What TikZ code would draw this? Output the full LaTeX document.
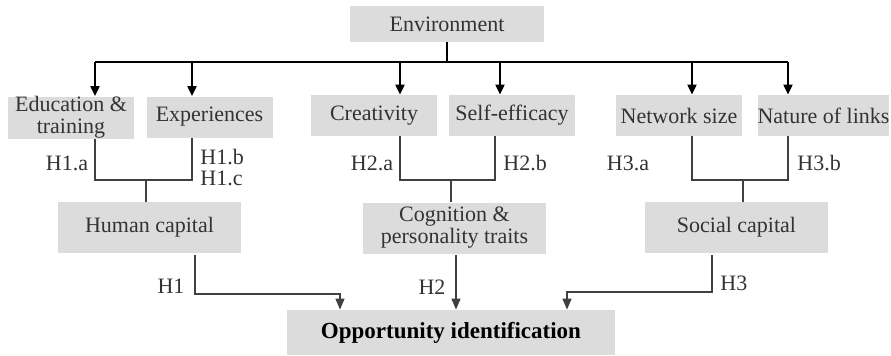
\documentclass[tikz,border=0pt]{standalone}
\usepackage{fontspec}
\setmainfont{Liberation Serif}
\usetikzlibrary{arrows.meta}
\definecolor{boxgray}{HTML}{DCDCDC}
\definecolor{linegray}{HTML}{404040}
\definecolor{textgray}{HTML}{333333}

\begin{document}
\begin{tikzpicture}[
	x=0.5pt, y=-0.5pt,
	block/.style={rectangle, fill=boxgray, inner sep=0pt, align=center, text=textgray, font=\fontsize{11}{11}\selectfont},
	small/.style={block, minimum width=63pt, minimum height=20.5pt},
	wide/.style={block, minimum width=91.5pt, minimum height=25.5pt},
	hyp/.style={text=textgray, inner sep=0pt, font=\fontsize{11}{11}\selectfont},
	toparrow/.style={-{Triangle[length=5pt, width=4.5pt]}, line width=1pt, black},
	link/.style={line width=0.7pt, linegray},
	linkarrow/.style={link, -{Triangle[length=5.5pt, width=4.5pt]}}
]
	\useasboundingbox (0,0) rectangle (891,355);

	% Environment layer
	\node[block, minimum width=97pt, minimum height=18pt] (env) at (447,24) {Environment};

	% Antecedents
	\node[small] (edu) at (71,117.5) {Education \&\\training};
	\node[small] (exp) at (209.5,117) {Experiences};
	\node[small] (cre) at (374,115.5) {Creativity};
	\node[small] (self) at (512,115.5) {Self-efficacy};
	\node[small] (net) at (679,115.5) {Network size};
	\node[small] (nat) at (823.5,115.5) {Nature of links};

	% Capitals
	\node[wide] (hum) at (149.5,227.5) {Human capital};
	\node[wide] (cog) at (454.5,228) {Cognition \&\\personality traits};
	\node[wide] (soc) at (736.5,227.5) {Social capital};

	% Outcome
	\node[block, minimum width=164pt, minimum height=22.5pt, text=black, font=\fontsize{11.5}{12}\selectfont\bfseries] (opp) at (451,332.5) {Opportunity identification};

	% Arrows from environment
	\coordinate (busL) at (95,62);
	\coordinate (busR) at (788,62);
	\draw[line width=1pt] (env.south) -- (env.south |- busL);
	\draw[line width=1pt] (busL) -- (busR);
	\foreach \n/\x in {edu/95, exp/192, cre/400, self/500, net/692, nat/788}
		\draw[toparrow] (\x,62) -- (\x,0 |- \n.north);

	% Brackets
	\draw[link] (95,0 |- edu.south) -- (95,180) -- (192,180) -- (192,0 |- exp.south);
	\draw[link] (146,180) -- (146,0 |- hum.north);
	\draw[link] (400,0 |- cre.south) -- (400,180) -- (495,180) -- (495,0 |- self.south);
	\draw[link] (451,180) -- (451,0 |- cog.north);
	\draw[link] (692,0 |- net.south) -- (692,180) -- (788,180) -- (788,0 |- nat.south);
	\draw[link] (743,180) -- (743,0 |- soc.north);

	% Paths to outcome
	\draw[linkarrow] (195,255) -- (195,294) -- (340,294) -- (340,0 |- opp.north);
	\draw[linkarrow] (456,255) -- (456,0 |- opp.north);
	\draw[linkarrow] (712,255) -- (712,292) -- (567,292) -- (567,0 |- opp.north);

	% Hypothesis labels
	\node[hyp] (h1a) at (67,163) {H1.a};
	\node[hyp, anchor=west] (h1b) at (200,157) {H1.b};
	\node[hyp, anchor=west] (h1c) at (200,178) {H1.c};
	\node[hyp] (h2a) at (372,163) {H2.a};
	\node[hyp, anchor=west] (h2b) at (503,163) {H2.b};
	\node[hyp] (h3a) at (628,163) {H3.a};
	\node[hyp, anchor=west] (h3b) at (797,163) {H3.b};
	\node[hyp] (h1) at (171,286) {H1};
	\node[hyp] (h2) at (432,287) {H2};
	\node[hyp, anchor=west] (h3) at (720,283) {H3};
\end{tikzpicture}
\end{document}
